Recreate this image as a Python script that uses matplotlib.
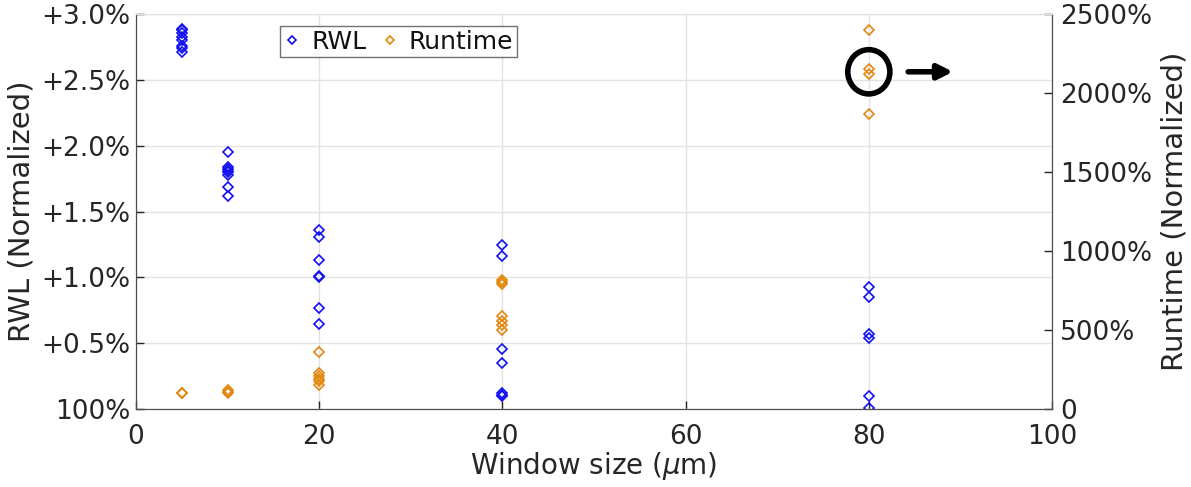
import numpy as np
import matplotlib.pyplot as plt
from matplotlib.patches import Ellipse

# RWL increase over baseline (%) per window size
rwl_x = [5, 5, 5, 5, 5, 5, 5, 5,
         10, 10, 10, 10, 10, 10, 10, 10,
         20, 20, 20, 20, 20, 20, 20,
         40, 40, 40, 40, 40, 40, 40,
         80, 80, 80, 80, 80, 80]
rwl_y = [2.89, 2.88, 2.86, 2.83, 2.80, 2.76, 2.74, 2.71,
         1.95, 1.84, 1.82, 1.81, 1.80, 1.78, 1.69, 1.62,
         1.36, 1.31, 1.13, 1.01, 1.00, 0.77, 0.65,
         1.25, 1.16, 0.46, 0.35, 0.12, 0.11, 0.10,
         0.93, 0.85, 0.57, 0.54, 0.10, 0.01]

# Runtime normalized (%) per window size
rt_x = [5, 5,
        10, 10, 10,
        20, 20, 20, 20, 20, 20,
        40, 40, 40, 40, 40, 40, 40,
        80, 80, 80, 80]
rt_y = [100, 102,
        100, 110, 118,
        360, 230, 210, 190, 175, 155,
        820, 805, 790, 590, 560, 530, 500,
        2400, 2150, 2120, 1865]

x_ticks = [0, 20, 40, 60, 80, 100]
left_ticks = [0, 0.5, 1.0, 1.5, 2.0, 2.5, 3.0]
left_labels = ['100%', '+0.5%', '+1.0%', '+1.5%', '+2.0%', '+2.5%', '+3.0%']
right_ticks = [0, 500, 1000, 1500, 2000, 2500]
right_labels = ['0', '500%', '1000%', '1500%', '2000%', '2500%']

blue = '#1010f0'
orange = '#e3870f'
txt = '#262626'

fig = plt.figure(figsize=(11.91, 4.87), dpi=100)
ax = fig.add_axes([0.1142, 0.160, 0.7691, 0.811])
ax2 = ax.twinx()

h1, = ax.plot(rwl_x, rwl_y, 'D', ms=5.5, mfc='none', mec=blue, mew=1.2, ls='none', label='RWL')
h2, = ax2.plot(rt_x, rt_y, 'D', ms=5.5, mfc='none', mec=orange, mew=1.2, ls='none', label='Runtime')

ax.set_xlim(0, 100)
ax.set_ylim(0, 3.0)
ax2.set_ylim(0, 2500)

ax.set_xticks(x_ticks)
ax.set_yticks(left_ticks)
ax.set_yticklabels(left_labels)
ax2.set_yticks(right_ticks)
ax2.set_yticklabels(right_labels)

ax.grid(True, color='#e3e3e3', lw=1)
ax.set_axisbelow(True)

for a in (ax, ax2):
    a.tick_params(direction='in', length=6, labelsize=19, colors=txt, width=1)
    for s in a.spines.values():
        s.set_color('#4d4d4d')
    a.spines['top'].set_color('#e0e0e0')
ax.tick_params(axis='x', pad=11)
ax.tick_params(axis='y', pad=4)
ax2.tick_params(axis='y', pad=6)

ax.set_xlabel(r'Window size ($\mu$m)', fontsize=20, color=txt, labelpad=0)
ax.set_ylabel('RWL (Normalized)', fontsize=21, color=txt, labelpad=4)
ax2.set_ylabel('Runtime (Normalized)', fontsize=21, color=txt, labelpad=6)

leg = ax.legend(handles=[h1, h2], ncol=2, loc='upper left', bbox_to_anchor=(0.157, 0.97),
                borderaxespad=0, fontsize=18, frameon=True, fancybox=False, edgecolor='#4d4d4d',
                handlelength=0.7, handletextpad=0.4, columnspacing=0.6, borderpad=0.15,
                markerscale=0.75)
leg.get_frame().set_linewidth(1)
for t in leg.get_texts():
    t.set_color('#111111')

# highlight circle and arrow near the 80 um runtime cluster
circ = Ellipse((80, 2135), width=4.6, height=280, fill=False, lw=4, color='black', zorder=5)
ax2.add_patch(circ)
ax2.annotate('', xy=(89.5, 2135), xytext=(84.0, 2135),
             arrowprops=dict(arrowstyle='-|>', lw=4, color='black', mutation_scale=22))

fig.savefig('out.png', dpi=100)
